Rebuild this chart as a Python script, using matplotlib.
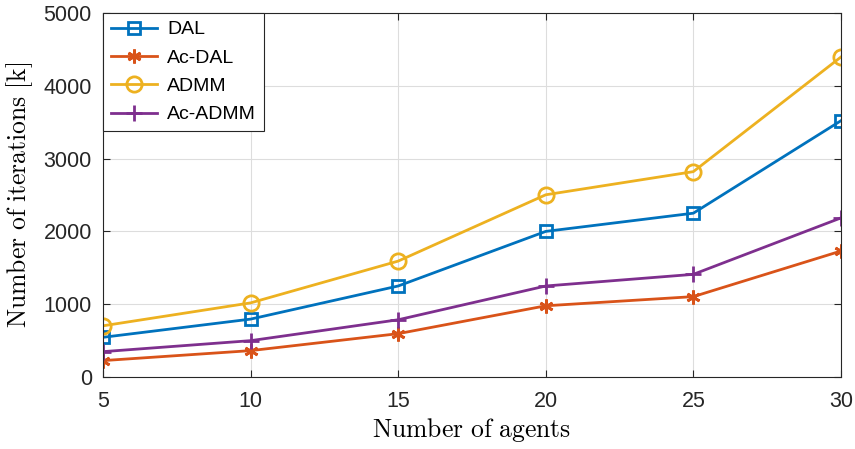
import matplotlib
matplotlib.use("Agg")
import matplotlib.pyplot as plt

agents = [5, 10, 15, 20, 25, 30]
dal = [545, 795, 1250, 2000, 2250, 3520]
ac_dal = [225, 362, 595, 978, 1104, 1730]
admm = [703, 1018, 1592, 2503, 2821, 4395]
ac_admm = [348, 499, 786, 1250, 1410, 2185]

plt.rcParams['font.family'] = ['Liberation Sans', 'DejaVu Sans']
plt.rcParams['mathtext.fontset'] = 'cm'

fig = plt.figure(figsize=(8.55, 4.49), dpi=100)
ax = fig.add_axes([0.1205, 0.1604, 0.863, 0.8106])

ax.plot(agents, dal, color='#0072BD', lw=2, marker='s', ms=9, mfc='none', mew=2, label='DAL')
ax.plot(agents, ac_dal, color='#D95319', lw=2, marker=(6, 2, 0), ms=10, mew=2, label='Ac-DAL')
ax.plot(agents, admm, color='#EDB120', lw=2, marker='o', ms=11, mfc='none', mew=2, label='ADMM')
ax.plot(agents, ac_admm, color='#7E2F8E', lw=2, marker='+', ms=12, mew=2, label='Ac-ADMM')

ax.set_xlim(5, 30)
ax.set_ylim(0, 5000)
ax.set_xticks(agents)
ax.set_yticks([0, 1000, 2000, 3000, 4000, 5000])
ax.tick_params(direction='in', labelsize=15.5, colors='#262626', length=5)
ax.tick_params(axis='x', pad=10)
ax.tick_params(axis='y', pad=8)
ax.tick_params(top=True, right=True)
ax.grid(True, color='#dddddd', lw=0.8)
for s in ax.spines.values():
    s.set_color('#262626')

ax.set_xlabel(r'$\mathrm{Number\ of\ agents}$', fontsize=18.5, labelpad=3)
ax.set_ylabel(r'$\mathrm{Number\ of\ iterations\ [k]}$', fontsize=18.5, labelpad=6)

leg = ax.legend(loc='upper left', fontsize=14, fancybox=False, framealpha=1,
                edgecolor='#262626', borderaxespad=0.0, handlelength=2.4,
                borderpad=0.4, labelspacing=0.55, handletextpad=0.5)
leg.get_frame().set_linewidth(0.8)

fig.savefig('out.png', dpi=100)
